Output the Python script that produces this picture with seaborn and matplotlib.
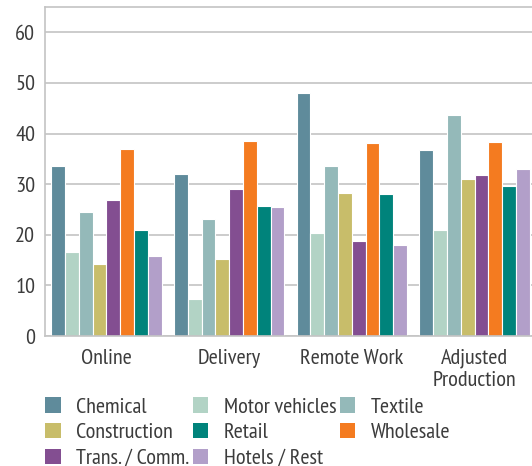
import matplotlib
matplotlib.use("Agg")
import matplotlib.pyplot as plt
import seaborn as sns
import pandas as pd
from matplotlib.patches import Patch

# categories and series
groups = ["Online", "Delivery", "Remote Work", "Adjusted\nProduction"]
sectors = ["Chemical", "Motor vehicles", "Textile", "Construction",
           "Trans. / Comm.", "Wholesale", "Retail", "Hotels / Rest"]
chemical = [33.6, 32.0, 48.1, 36.8]
motor_vehicles = [16.6, 7.3, 20.3, 20.9]
textile = [24.4, 23.1, 33.5, 43.7]
construction = [14.2, 15.2, 28.3, 31.0]
trans_comm = [26.9, 29.1, 18.7, 31.8]
wholesale = [37.0, 38.6, 38.2, 38.4]
retail = [21.0, 25.6, 28.0, 29.6]
hotels_rest = [15.9, 25.4, 18.0, 32.9]
colors = ["#5f8b9b", "#b2d3c5", "#94b9b9", "#c8bd6a",
          "#834e91", "#f47b20", "#00837b", "#b29fc9"]

series = [chemical, motor_vehicles, textile, construction,
          trans_comm, wholesale, retail, hotels_rest]
rows = []
for name, vals in zip(sectors, series):
    for g, v in zip(groups, vals):
        rows.append({"group": g, "sector": name, "value": v})
df = pd.DataFrame(rows)

sns.set_style("white")
plt.rcParams['font.family'] = ['PT Sans Narrow', 'Roboto Condensed', 'DejaVu Sans']
txt = "#3c3c3c"
grid = "#c4c4c4"
fs = 16

fig = plt.figure(figsize=(5.32, 4.66), dpi=100)
ax = fig.add_axes([45/532, 1-336/466, 491/532, (336-7)/466])
ax.set_axisbelow(True)
ax.yaxis.grid(True, color=grid, linewidth=1.2)

sns.barplot(data=df, x="group", y="value", hue="sector", hue_order=sectors,
            palette=colors, saturation=1, width=0.9, edgecolor="white",
            linewidth=0.8, legend=False, ax=ax)

ax.set_xlim(-0.5, 3.5)
ax.set_ylim(0, 65)
ax.set_yticks([0, 10, 20, 30, 40, 50, 60])
ax.set_xlabel("")
ax.set_ylabel("")
for s in ["left", "top", "bottom"]:
    ax.spines[s].set_color(grid)
    ax.spines[s].set_linewidth(1.2)
ax.spines["right"].set_visible(False)
ax.tick_params(axis="both", length=0, labelsize=fs, colors=txt, pad=7)
ax.tick_params(axis="x", pad=9)
ax.set_xticks([0.5, 1.5, 2.5], minor=True)
ax.tick_params(axis="x", which="minor", direction="in", length=5, color=grid, width=1.2)
for lab in ax.get_xticklabels():
    lab.set_linespacing(1.2)

# legend: 3 columns, filled column-wise
order = [0, 3, 4, 1, 6, 7, 2, 5]
handles = [Patch(facecolor=colors[i], edgecolor="none") for i in order]
labels = [sectors[i] for i in order]
fig.legend(handles, labels, loc="upper left", bbox_to_anchor=(45/532, 1-397/466),
           ncol=3, frameon=False, fontsize=fs, labelcolor=txt,
           handlelength=0.7, handleheight=0.7, handletextpad=0.7,
           columnspacing=0.15, labelspacing=0.28, borderaxespad=0, borderpad=0)

fig.savefig("out.png", dpi=100)
